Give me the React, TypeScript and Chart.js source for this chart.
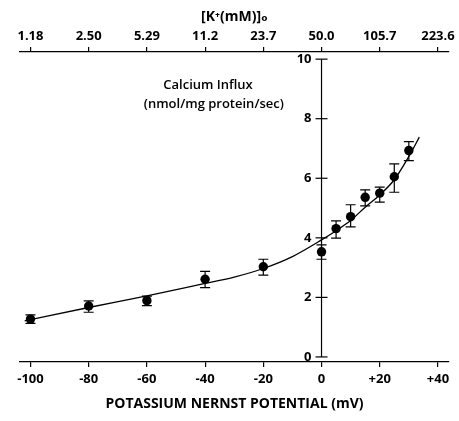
import React, { useEffect, useRef } from 'react';
import { Chart, registerables } from 'chart.js';

Chart.register(...registerables);

const potentialTicks = [-100, -80, -60, -40, -20, 0, 20, 40];
const kLabels = ['1.18', '2.50', '5.29', '11.2', '23.7', '50.0', '105.7', '223.6'];
const yTicks = [0, 2, 4, 6, 8, 10];

const pointX = [-100, -80, -60, -40, -20, 0, 5, 10, 15, 20, 25, 30];
const pointY = [1.27, 1.71, 1.89, 2.61, 3.03, 3.53, 4.31, 4.71, 5.36, 5.5, 6.05, 6.93];
const errHigh = [1.41, 1.88, 2.04, 2.87, 3.28, 3.76, 4.57, 5.11, 5.61, 5.7, 6.48, 7.23];
const errLow = [1.13, 1.5, 1.72, 2.33, 2.75, 3.28, 3.99, 4.37, 5.07, 5.2, 5.53, 6.59];

const curveX = [-102, -80, -60, -40, -30, -20, -10, 0, 5, 10, 15, 20, 25, 30, 33.6];
const curveY = [1.21, 1.66, 2.05, 2.47, 2.68, 2.97, 3.37, 3.93, 4.24, 4.58, 5.03, 5.44, 5.95, 6.73, 7.38];

const FONT = "'Open Sans', 'DejaVu Sans', sans-serif";

const overlayPlugin = {
  id: 'overlay',
  afterDatasetsDraw(chart: any) {
    const { ctx } = chart;
    const xs = chart.scales.x;
    const ys = chart.scales.y;
    ctx.save();
    ctx.strokeStyle = '#000';
    ctx.fillStyle = '#000';
    // y axis at x = 0
    const ax = xs.getPixelForValue(0);
    ctx.lineWidth = 1.2;
    ctx.beginPath();
    ctx.moveTo(ax, ys.getPixelForValue(yTicks[0]));
    ctx.lineTo(ax, ys.getPixelForValue(yTicks[yTicks.length - 1]));
    ctx.stroke();
    ctx.font = `bold 13px ${FONT}`;
    ctx.textAlign = 'right';
    ctx.textBaseline = 'middle';
    yTicks.forEach((v) => {
      const py = ys.getPixelForValue(v);
      ctx.beginPath();
      ctx.moveTo(ax - 6, py);
      ctx.lineTo(ax + 6, py);
      ctx.stroke();
      ctx.fillText(String(v), ax - 10, py);
    });
    // error bars
    ctx.lineWidth = 1.2;
    pointX.forEach((x, i) => {
      const px = xs.getPixelForValue(x);
      const hi = ys.getPixelForValue(errHigh[i]);
      const lo = ys.getPixelForValue(errLow[i]);
      ctx.beginPath();
      ctx.moveTo(px, hi);
      ctx.lineTo(px, lo);
      ctx.moveTo(px - 5, hi);
      ctx.lineTo(px + 5, hi);
      ctx.moveTo(px - 5, lo);
      ctx.lineTo(px + 5, lo);
      ctx.stroke();
    });
    // y axis label
    ctx.font = `600 13px ${FONT}`;
    ctx.textAlign = 'center';
    ctx.fillText('Calcium Influx', xs.getPixelForValue(-39), ys.getPixelForValue(9.12));
    ctx.fillText('(nmol/mg protein/sec)', xs.getPixelForValue(-37), ys.getPixelForValue(8.48));
    ctx.restore();
  },
};

export default function App() {
  const ref = useRef<HTMLCanvasElement>(null);
  useEffect(() => {
    if (!ref.current) return;
    const tickFont = { family: FONT, size: 13, weight: 'bold' as const };
    const chart = new Chart(ref.current, {
      type: 'scatter',
      data: {
        datasets: [
          {
            data: curveX.map((x, i) => ({ x, y: curveY[i] })),
            showLine: true,
            borderColor: '#000',
            borderWidth: 1.3,
            pointRadius: 0,
            cubicInterpolationMode: 'monotone',
            fill: false,
          } as any,
          {
            data: pointX.map((x, i) => ({ x, y: pointY[i] })),
            backgroundColor: '#000',
            borderColor: '#000',
            pointRadius: 4.7,
            borderWidth: 0,
          },
        ],
      },
      options: {
        animation: false,
        responsive: true,
        maintainAspectRatio: false,
        layout: { padding: { left: 20, right: 10, top: 0, bottom: 0 } },
        plugins: { legend: { display: false }, tooltip: { enabled: false } },
        scales: {
          x: {
            type: 'linear',
            position: 'bottom',
            min: -103.6,
            max: 43.8,
            afterBuildTicks: (s: any) => {
              s.ticks = potentialTicks.map((v) => ({ value: v }));
            },
            afterFit: (s: any) => {
              s.height = 59;
              s.paddingLeft = 0;
              s.paddingRight = 0;
            },
            ticks: {
              color: '#000',
              font: tickFont,
              padding: 4,
              maxRotation: 0,
              callback: (v: any) => (Number(v) > 0 ? '+' + v : String(v)),
            },
            grid: { drawOnChartArea: false, drawTicks: true, tickLength: 5, color: '#000', lineWidth: 1.2 },
            border: { display: true, color: '#000', width: 1.2 },
            title: {
              display: true,
              text: 'POTASSIUM NERNST POTENTIAL (mV)',
              color: '#000',
              font: { family: FONT, size: 14, weight: 'bold' },
              padding: { top: 2, bottom: 9 },
            },
          },
          x2: {
            type: 'linear',
            position: 'top',
            min: -103.6,
            max: 43.8,
            afterBuildTicks: (s: any) => {
              s.ticks = potentialTicks.map((v) => ({ value: v }));
            },
            afterFit: (s: any) => {
              s.height = 52;
              s.paddingLeft = 0;
              s.paddingRight = 0;
            },
            ticks: {
              color: '#000',
              font: tickFont,
              padding: 3,
              maxRotation: 0,
              callback: (v: any) => kLabels[potentialTicks.indexOf(Number(v))] ?? '',
            },
            grid: { drawOnChartArea: false, drawTicks: true, tickLength: 5, color: '#000', lineWidth: 1.2 },
            border: { display: true, color: '#000', width: 1.2 },
            title: {
              display: true,
              text: '[K⁺(mM)]ₒ',
              color: '#000',
              font: { family: FONT, size: 14, weight: 'bold' },
              padding: { top: 9, bottom: 4 },
            },
          },
          y: {
            type: 'linear',
            display: false,
            min: -0.17,
            max: 10.24,
          },
        },
      } as any,
      plugins: [overlayPlugin],
    });
    return () => chart.destroy();
  }, []);
  return (
    <div style={{ position: 'fixed', left: 0, top: 0, width: 459, height: 421 }}>
      <canvas ref={ref} />
    </div>
  );
}
